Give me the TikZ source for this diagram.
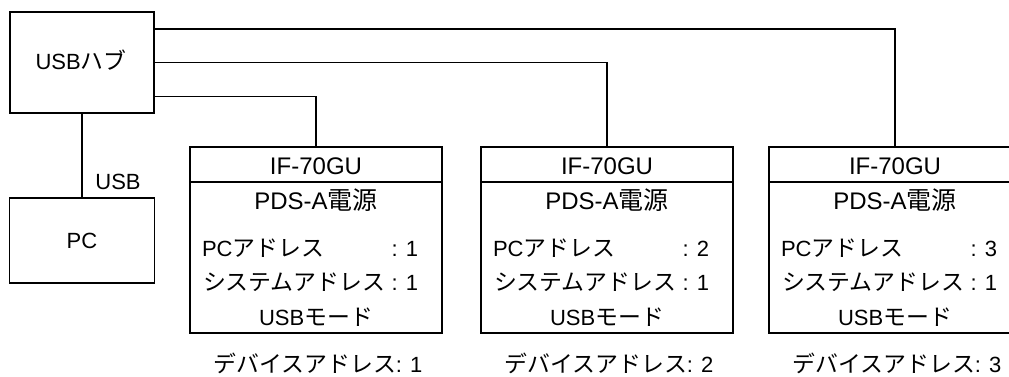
\documentclass[tikz,border=0pt]{standalone}
\usepackage{fontspec}
\setmainfont{Liberation Sans}
\newfontfamily\jpfont[Scale=1.04]{Noto Sans CJK JP}
\newcommand\jp[1]{{\jpfont #1}}
\newcommand\bodyfnt{\fontsize{22pt}{26pt}\selectfont}
\newcommand\headfnt{\fontsize{24pt}{28pt}\selectfont}
\begin{document}
\begin{tikzpicture}[x=1pt,y=-1pt,line width=1.3pt,
  every node/.style={inner sep=0pt,outer sep=0pt,font=\bodyfnt,text height=20pt,text depth=4pt},
  frame/.style={draw,rectangle,text height=,text depth=},
  devbox/.style={draw,rectangle,minimum width=252pt,minimum height=186pt,text height=,text depth=},
  head/.style={font=\headfnt,text height=22pt,text depth=4pt},
  foot/.style={anchor=base,text height=,text depth=},
  wire/.style={draw,line width=1.3pt}]
\useasboundingbox (0,0) rectangle (1009,376);
\clip (0,0) rectangle (1009,376);
\fill[white] (0,0) rectangle (1009,376);

\node[frame,minimum width=144pt,minimum height=101pt] (hub) at (82,62.5) {};
\node (hubt) at (81,61) {USB\jp{ハブ}};
\node[frame,minimum width=145pt,minimum height=85pt] (pc) at (82,240.5) {};
\node (pct) at (82,240) {PC};
\draw[wire] (hub.south) -- (pc.north);
\node (usb) at (118,181) {USB};

\foreach \i/\L in {1/190,2/481,3/769}{
  \node[devbox] (dev\i) at (\L+126,240) {};
  \coordinate (divl\i) at (\L,182);
  \coordinate (divr\i) at (\L+252,182);
  \draw[wire] (divl\i) -- (divr\i);
  \node[head] (title\i) at (\L+126,165) {IF-70GU};
  \node[head] (pow\i) at (\L+126,200) {PDS-A\jp{電源}};
  \node[anchor=west] (pcal\i) at (\L+12,248) {PC\jp{アドレス}};
  \node[anchor=east] (pcav\i) at (\L+228,248) {: \i};
  \node[anchor=west] (sysl\i) at (\L+13,282) {\jp{システムアドレス}};
  \node[anchor=east] (sysv\i) at (\L+228,282) {: 1};
  \node (mode\i) at (\L+126,317) {USB\jp{モード}};
  \node[foot] (devaddr\i) at (\L+128,372) {\jp{デバイスアドレス}: \i};
}

\draw[wire] ([yshift=33.5pt]hub.east) -| (dev3.north);
\draw[wire] (hub.east) -| (dev2.north);
\draw[wire] ([yshift=-34pt]hub.east) -| (dev1.north);
\end{tikzpicture}
\end{document}
